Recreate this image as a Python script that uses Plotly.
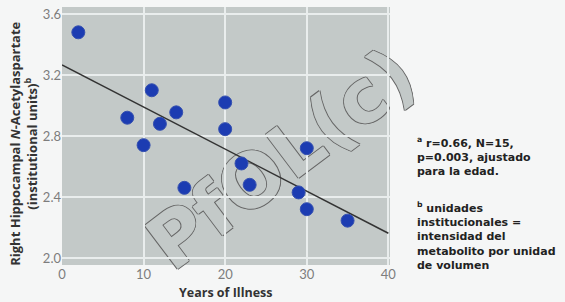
import plotly.graph_objects as go

# Data
years = [2, 8, 10, 11, 12, 14, 15, 20, 20, 22, 23, 29, 30, 30, 35]
naa = [3.48, 2.92, 2.74, 3.10, 2.88, 2.955, 2.46, 3.02, 2.845, 2.62, 2.48, 2.43, 2.72, 2.32, 2.245]
fit_x = [0, 40]
fit_y = [3.266, 2.162]
x_ticks = [0, 10, 20, 30, 40]
y_ticks = [2.0, 2.4, 2.8, 3.2, 3.6]
y_tick_text = ["2.0", "2.4", "2.8", "3.2", "3.6"]

note_a = "<sup>a</sup> r=0.66, N=15,<br>p=0.003, ajustado<br>para la edad."
note_b = "<sup>b</sup> unidades<br>institucionales =<br>intensidad del<br>metabolito por unidad<br>de volumen"

fig = go.Figure()
fig.add_trace(go.Scatter(x=fit_x, y=fit_y, mode="lines",
                         line=dict(color="#333333", width=1.5),
                         hoverinfo="skip", showlegend=False))
fig.add_trace(go.Scatter(x=years, y=naa, mode="markers",
                         marker=dict(size=13, color="#1c3cb2",
                                     line=dict(color="#3550b0", width=1)),
                         showlegend=False))

tick_font = dict(family="Lato, Open Sans, sans-serif", size=13, color="#7d7d7d")
fig.update_xaxes(range=[0, 40.2], tickvals=x_ticks, showgrid=True,
                 gridcolor="#e9eded", gridwidth=2, zeroline=False,
                 showline=False, ticks="", tickfont=tick_font)
fig.update_yaxes(range=[1.954, 3.646], tickvals=y_ticks, ticktext=y_tick_text,
                 showgrid=True, gridcolor="#e9eded", gridwidth=2,
                 zeroline=False, showline=False, ticks="", tickfont=tick_font)

title_font = dict(family="Open Sans, sans-serif", size=13, color="#333333", weight="bold")

# Axis titles
fig.add_annotation(xref="paper", yref="paper", x=-0.118, y=0.471,
                   text="Right Hippocampal <i>N</i>-Acetylaspartate<br>(institutional units)<sup>b</sup>",
                   textangle=-90, showarrow=False, font=title_font,
                   xanchor="center", yanchor="middle")
fig.add_annotation(xref="paper", yref="paper", x=0.5, y=-0.105,
                   text="Years of Illness", showarrow=False, font=dict(title_font, size=12.5),
                   xanchor="center", yanchor="middle")

# Notes
note_font = dict(family="DejaVu Sans, sans-serif", size=11, color="#222222", weight="bold")
fig.add_annotation(xref="paper", yref="paper", x=1.077, y=0.510,
                   text=note_a, showarrow=False, align="left", font=note_font,
                   xanchor="left", yanchor="top")
fig.add_annotation(xref="paper", yref="paper", x=1.077, y=0.2585,
                   text=note_b, showarrow=False, align="left", font=note_font,
                   xanchor="left", yanchor="top")

# Watermark (outlined text, drawn below grid and data)
fig.add_shape(type="rect", xref="paper", yref="paper",
              x0=0.649, x1=0.669, y0=0.418, y1=0.438,
              line=dict(width=0), fillcolor="rgba(0,0,0,0)", layer="below",
              label=dict(text="PfOL(c)", textangle=-37, textposition="middle center",
                         font=dict(family="DejaVu Sans, sans-serif", size=75,
                                   color="#c3c9c8", weight="bold",
                                   shadow="1px 0 0 #666, -1px 0 0 #666, 0 1px 0 #666, 0 -1px 0 #666")))

fig.update_layout(width=565, height=302,
                  margin=dict(l=62, r=175, t=7, b=37),
                  plot_bgcolor="#c3c9c8", paper_bgcolor="#f5f6f6")

fig.write_html("out.html", config={"displayModeBar": False},
               post_script="document.body.style.margin='0';")
